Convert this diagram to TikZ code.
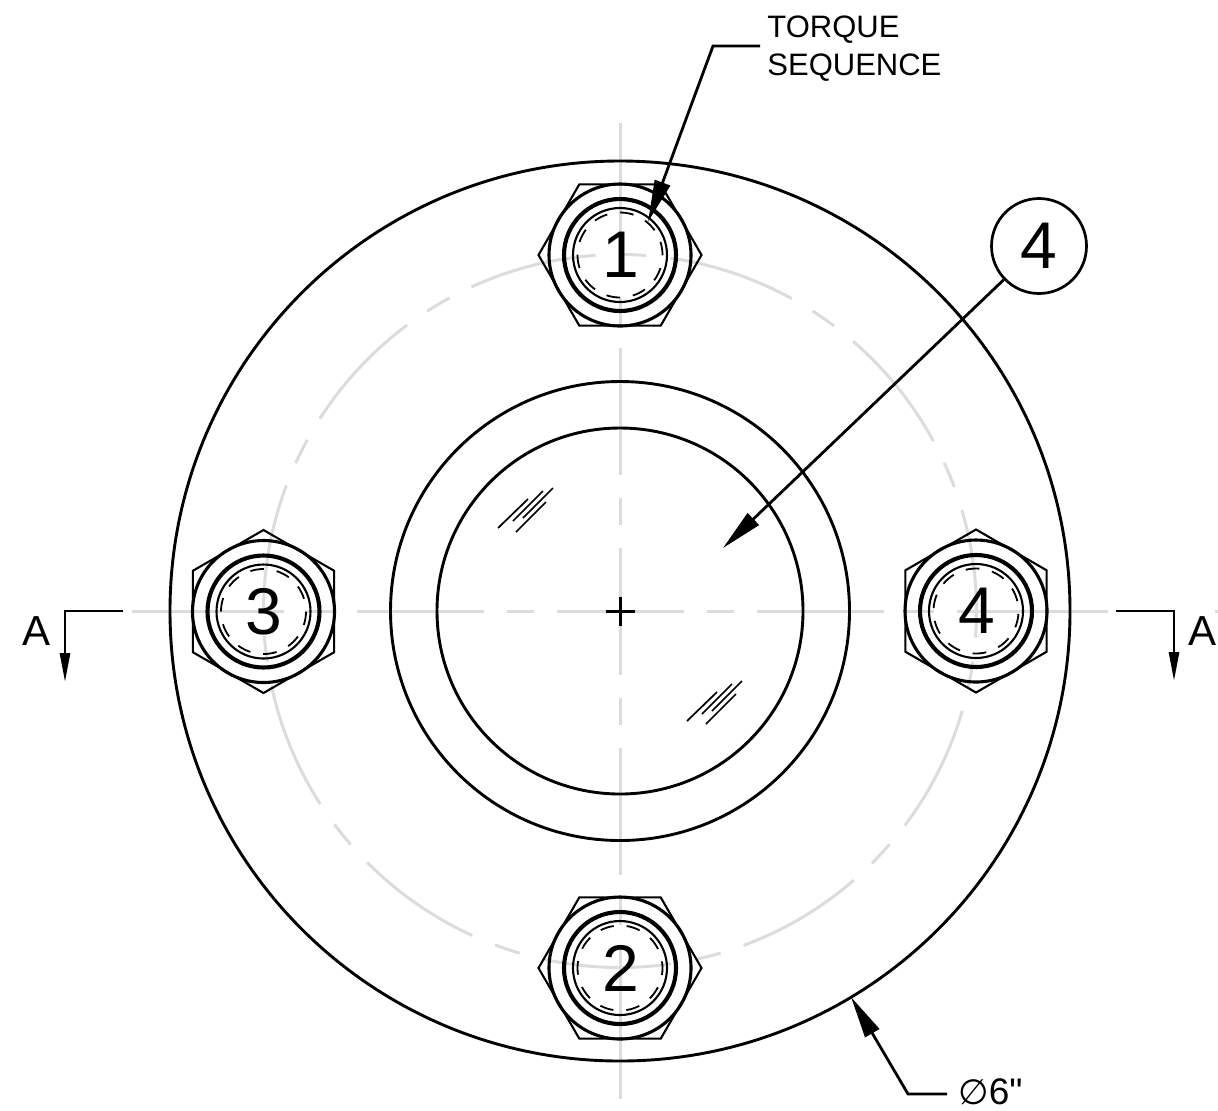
\documentclass[tikz,border=0pt]{standalone}
\usepackage{fontspec}
\setmainfont{Liberation Sans}
\newfontfamily\plainfont{Liberation Sans}
\newfontfamily\symfont{DejaVu Sans}
\usetikzlibrary{arrows.meta}
\definecolor{cline}{HTML}{DCDCDC}
\tikzset{
  centerline/.style={draw=cline,line width=1.5pt},
  outline/.style={draw=black,line width=1.45pt},
  thickring/.style={draw=black,line width=2.05pt},
  midring/.style={draw=black,line width=1.55pt},
  thinline/.style={draw=black,line width=1.05pt},
  dashring/.style={draw=black,line width=0.9pt},
  scratch/.style={draw=black,line width=0.85pt},
  leader/.style={draw=black,line width=1.4pt},
  bigtip/.style={-{Triangle[length=21pt,width=8pt]}},
  sectip/.style={-{Triangle[length=14.5pt,width=5pt]}},
  num/.style={inner sep=0pt,font=\fontsize{33}{33}\selectfont},
  sect/.style={inner sep=0pt,font=\fontsize{21}{21}\selectfont},
  note/.style={inner sep=0pt,align=left,font=\fontsize{15.5}{19}\selectfont},
  dimtext/.style={inner sep=0pt,font=\fontsize{18.5}{18.5}\plainfont},
  balloon/.style={circle,draw=black,line width=1.35pt,minimum size=47.5pt,inner sep=0pt,font=\fontsize{33}{33}\selectfont}
}
\newcommand{\boltdraw}[6]{%
  \begin{scope}[shift={(#1,#2)}]
    \draw[thinline,line join=miter] (#3:81.5) -- (#3+60:81.5) -- (#3+120:81.5) -- (#3+180:81.5) -- (#3+240:81.5) -- (#3+300:81.5) -- cycle;
    \draw[midring] (0,0) circle[radius=71];
    \draw[thickring] (0,0) circle[radius=56];
    \draw[thinline] (0,0) circle[radius=47];
    \foreach \k in {0,...,9} {
      \pgfmathsetmacro{\st}{#4+36*\k-90}
      \draw[dashring] (\st:42.5) arc[start angle=\st,delta angle=18.5,radius=42.5];
    }
  \end{scope}
  \node[num] (#5) at (#1+0.5,#2) {#6};
}
\begin{document}
\begin{tikzpicture}[x=0.5pt,y=-0.5pt]
\useasboundingbox (0,0) rectangle (1218,1110);
% centre lines
\foreach \a/\b in {-488/-336.5,-313.5/-286.5,-263.5/-136.5,-113.5/-86.5,-63.5/63.5,86.5/113.5,136.5/263.5,286.5/313.5,336.5/488} {
  \draw[centerline] (620,611+\a) -- (620,611+\b);
  \draw[centerline] (620+\a,611) -- (620+\b,611);
}
\draw[centerline] (1215,611) -- (1218,611);
% bolt circle
\foreach \k in {0,...,10} {
  \pgfmathsetmacro{\la}{8.1+32.727*\k-90}
  \pgfmathsetmacro{\sa}{32.7+32.727*\k-90}
  \draw[centerline] (620,611) ++(\la:356.5) arc[start angle=\la,delta angle=20.7,radius=356.5];
  \draw[centerline] (620,611) ++(\sa:356.5) arc[start angle=\sa,delta angle=4.2,radius=356.5];
}
% main circles
\draw[outline] (620,611) circle[radius=450];
\draw[outline] (620,611) circle[radius=229.5];
\draw[outline] (620,611) circle[radius=183];
% centre cross
\draw[draw=black,line width=1.5pt] (605.5,611) -- (634.5,611);
\draw[draw=black,line width=1.5pt] (620,597) -- (620,626);
% glass marks
\draw[scratch] (498,528) -- (528,499);
\draw[scratch] (513,521) -- (543,491);
\draw[scratch] (523,518) -- (553,488);
\draw[scratch] (516,532) -- (546,502);
\draw[scratch] (687,721) -- (717,692);
\draw[scratch] (702,714) -- (732,684);
\draw[scratch] (712,711) -- (742,681);
\draw[scratch] (706,724) -- (736,694);
% bolts
\boltdraw{620}{255}{0}{0}{b1}{1}
\boltdraw{620}{968}{0}{9}{b2}{2}
\boltdraw{263.5}{611.5}{30}{-18}{b3}{3}
\boltdraw{976}{611}{30}{-14}{b4}{4}
% torque leader
\node[note,anchor=west] (torque) at (767,49) {TORQUE\\SEQUENCE};
\coordinate (t0) at (760,46);
\coordinate (t1) at (713,46);
\coordinate (t2) at (648,222);
\draw[leader,bigtip] (t0) -- (t1) -- (t2);
% balloon
\node[balloon] (item) at (1039,246) {4};
\coordinate (itip) at (723,548);
\draw[leader,bigtip] (item) -- (itip);
% section marks
\node[sect,anchor=base] (al) at (37,645) {A};
\coordinate (l0) at (123,611);
\coordinate (l1) at (65,611);
\coordinate (l2) at (65,682);
\draw[leader,sectip] (l0) -- (l1) -- (l2);
\node[sect,anchor=base] (ar) at (1202,645) {A};
\coordinate (r0) at (1116,611);
\coordinate (r1) at (1174,611);
\coordinate (r2) at (1174,681);
\draw[leader,sectip] (r0) -- (r1) -- (r2);
% diameter
\node[dimtext,anchor=base west] (dia) at (958,1104) {{\symfont\fontsize{17.5}{17.5}\selectfont ∅}6"};
\coordinate (d0) at (947,1094);
\coordinate (d1) at (908,1094);
\coordinate (d2) at (851,997);
\draw[leader,bigtip] (d0) -- (d1) -- (d2);
\end{tikzpicture}
\end{document}
